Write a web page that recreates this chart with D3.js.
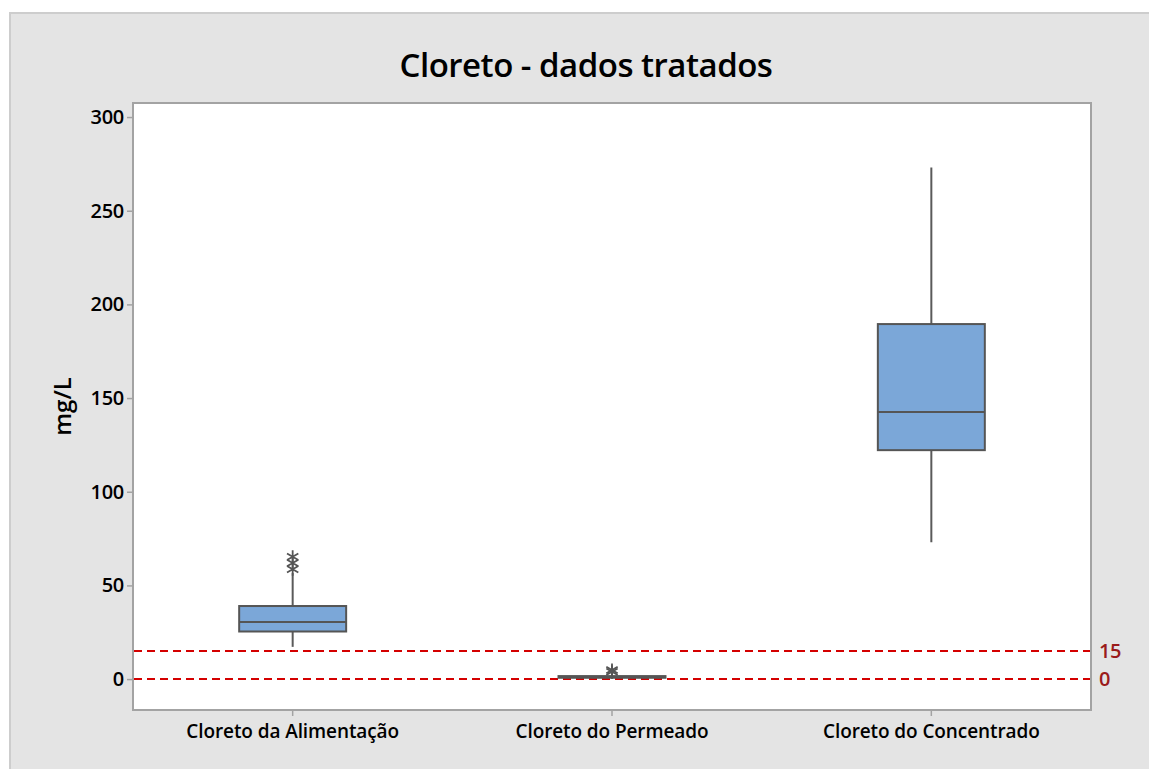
<!DOCTYPE html>
<html lang="pt">
<head>
<meta charset="utf-8">
<title>Cloreto - dados tratados</title>
<script src="https://cdn.jsdelivr.net/npm/d3@7"></script>
<style>
  body { margin: 0; background: #fff; }
  text { font-family: "Open Sans", "Noto Sans", sans-serif; }
</style>
</head>
<body>
<script>
// data
var categories = ["Cloreto da Alimentação", "Cloreto do Permeado", "Cloreto do Concentrado"];
var whiskerLow  = [17.2, 0.2, 73.1];
var q1          = [25.4, 0.7, 122.2];
var median      = [30.5, 1.1, 142.5];
var q3          = [39.0, 1.6, 189.5];
var whiskerHigh = [56.6, 2.6, 273.1];
var outliers    = [[65.3, 62.0, 58.6], [4.8, 3.9], []];
var refLines    = [15, 0];
var yTicks      = [0, 50, 100, 150, 200, 250, 300];

var w = 1149, h = 769;
var plot = {left: 133, right: 1091, top: 103, bottom: 710};

var svg = d3.select("body").append("svg")
  .attr("width", w).attr("height", h);

// grey panel
svg.append("rect").attr("x", 9).attr("y", 12)
  .attr("width", w - 9).attr("height", h - 12)
  .attr("fill", "#e4e4e4");
svg.append("path")
  .attr("d", "M10," + h + "V13H" + w)
  .attr("fill", "none").attr("stroke", "#cdcdcd").attr("stroke-width", 2);

var xScale = d3.scaleBand()
  .domain(categories)
  .range([plot.left, plot.right])
  .padding(0);

var yScale = d3.scaleLinear()
  .domain([-16.5, 307.5])
  .range([plot.bottom, plot.top]);

// plot area
svg.append("rect")
  .attr("x", plot.left).attr("y", plot.top)
  .attr("width", plot.right - plot.left).attr("height", plot.bottom - plot.top)
  .attr("fill", "#fff").attr("stroke", "#a3a3a3").attr("stroke-width", 2);

// title
svg.append("text")
  .attr("x", 586).attr("y", 77)
  .attr("text-anchor", "middle")
  .attr("font-size", 33).attr("font-weight", 600)
  .attr("letter-spacing", -0.5)
  .text("Cloreto - dados tratados");

// y axis
var yAxis = d3.axisLeft(yScale).tickValues(yTicks).tickSize(6).tickPadding(3);
var gy = svg.append("g").attr("transform", "translate(" + plot.left + ",0)").call(yAxis);
gy.select(".domain").remove();
gy.selectAll(".tick line").attr("stroke", "#a3a3a3").attr("stroke-width", 1.5);
gy.selectAll(".tick text").attr("font-size", 20).attr("font-weight", 600)
  .attr("fill", "#000").attr("letter-spacing", -0.3)
  .style("font-family", "'Open Sans', sans-serif");

// x axis
var xAxis = d3.axisBottom(xScale).tickSize(6).tickPadding(9);
var gx = svg.append("g").attr("transform", "translate(0," + plot.bottom + ")").call(xAxis);
gx.select(".domain").remove();
gx.selectAll(".tick line").attr("stroke", "#a3a3a3").attr("stroke-width", 1.5);
gx.selectAll(".tick text").attr("font-size", 19).attr("font-weight", 600)
  .attr("fill", "#000").attr("letter-spacing", -0.1)
  .style("font-family", "'Open Sans', sans-serif");

// y label
svg.append("text")
  .attr("transform", "translate(71," + ((plot.top + plot.bottom) / 2) + ") rotate(-90)")
  .attr("text-anchor", "middle")
  .attr("font-size", 24).attr("font-weight", 600)
  .text("mg/L");

// reference lines
svg.selectAll(".ref").data(refLines).enter().append("line")
  .attr("class", "ref")
  .attr("x1", plot.left + 1).attr("x2", plot.right - 1)
  .attr("y1", function(d) { return yScale(d); })
  .attr("y2", function(d) { return yScale(d); })
  .attr("stroke", "#d40000").attr("stroke-width", 2)
  .attr("stroke-dasharray", "8,5");
svg.selectAll(".reflabel").data(refLines).enter().append("text")
  .attr("class", "reflabel")
  .attr("x", plot.right + 8)
  .attr("y", function(d) { return yScale(d) + 7; })
  .attr("font-size", 20).attr("font-weight", 600)
  .attr("letter-spacing", -0.5)
  .attr("fill", "#9b1b1b")
  .text(function(d) { return d; });

// boxes
var boxW = xScale.bandwidth() * 0.335;
var idx = d3.range(categories.length);
var cx = function(i) { return xScale(categories[i]) + xScale.bandwidth() / 2; };

svg.selectAll(".whisker").data(idx).enter().append("line")
  .attr("class", "whisker")
  .attr("x1", cx).attr("x2", cx)
  .attr("y1", function(i) { return yScale(whiskerLow[i]); })
  .attr("y2", function(i) { return yScale(whiskerHigh[i]); })
  .attr("stroke", "#5a5a5a").attr("stroke-width", 2);

svg.selectAll(".box").data(idx).enter().append("rect")
  .attr("class", "box")
  .attr("x", function(i) { return cx(i) - boxW / 2; })
  .attr("width", boxW)
  .attr("y", function(i) { return yScale(q3[i]); })
  .attr("height", function(i) { return yScale(q1[i]) - yScale(q3[i]); })
  .attr("fill", "#7ba7d8").attr("stroke", "#555").attr("stroke-width", 2);

svg.selectAll(".median").data(idx).enter().append("line")
  .attr("class", "median")
  .attr("x1", function(i) { return cx(i) - boxW / 2; })
  .attr("x2", function(i) { return cx(i) + boxW / 2; })
  .attr("y1", function(i) { return yScale(median[i]); })
  .attr("y2", function(i) { return yScale(median[i]); })
  .attr("stroke", "#555").attr("stroke-width", 2);

// outliers as asterisks
var pts = [];
outliers.forEach(function(arr, i) { arr.forEach(function(v) { pts.push({i: i, v: v}); }); });
var star = d3.symbol().type(d3.symbolAsterisk).size(120);
svg.selectAll(".out").data(pts).enter().append("path")
  .attr("class", "out")
  .attr("transform", function(d) { return "translate(" + cx(d.i) + "," + yScale(d.v) + ")"; })
  .attr("d", star)
  .attr("fill", "none").attr("stroke", "#555").attr("stroke-width", 1.8);
</script>
</body>
</html>
